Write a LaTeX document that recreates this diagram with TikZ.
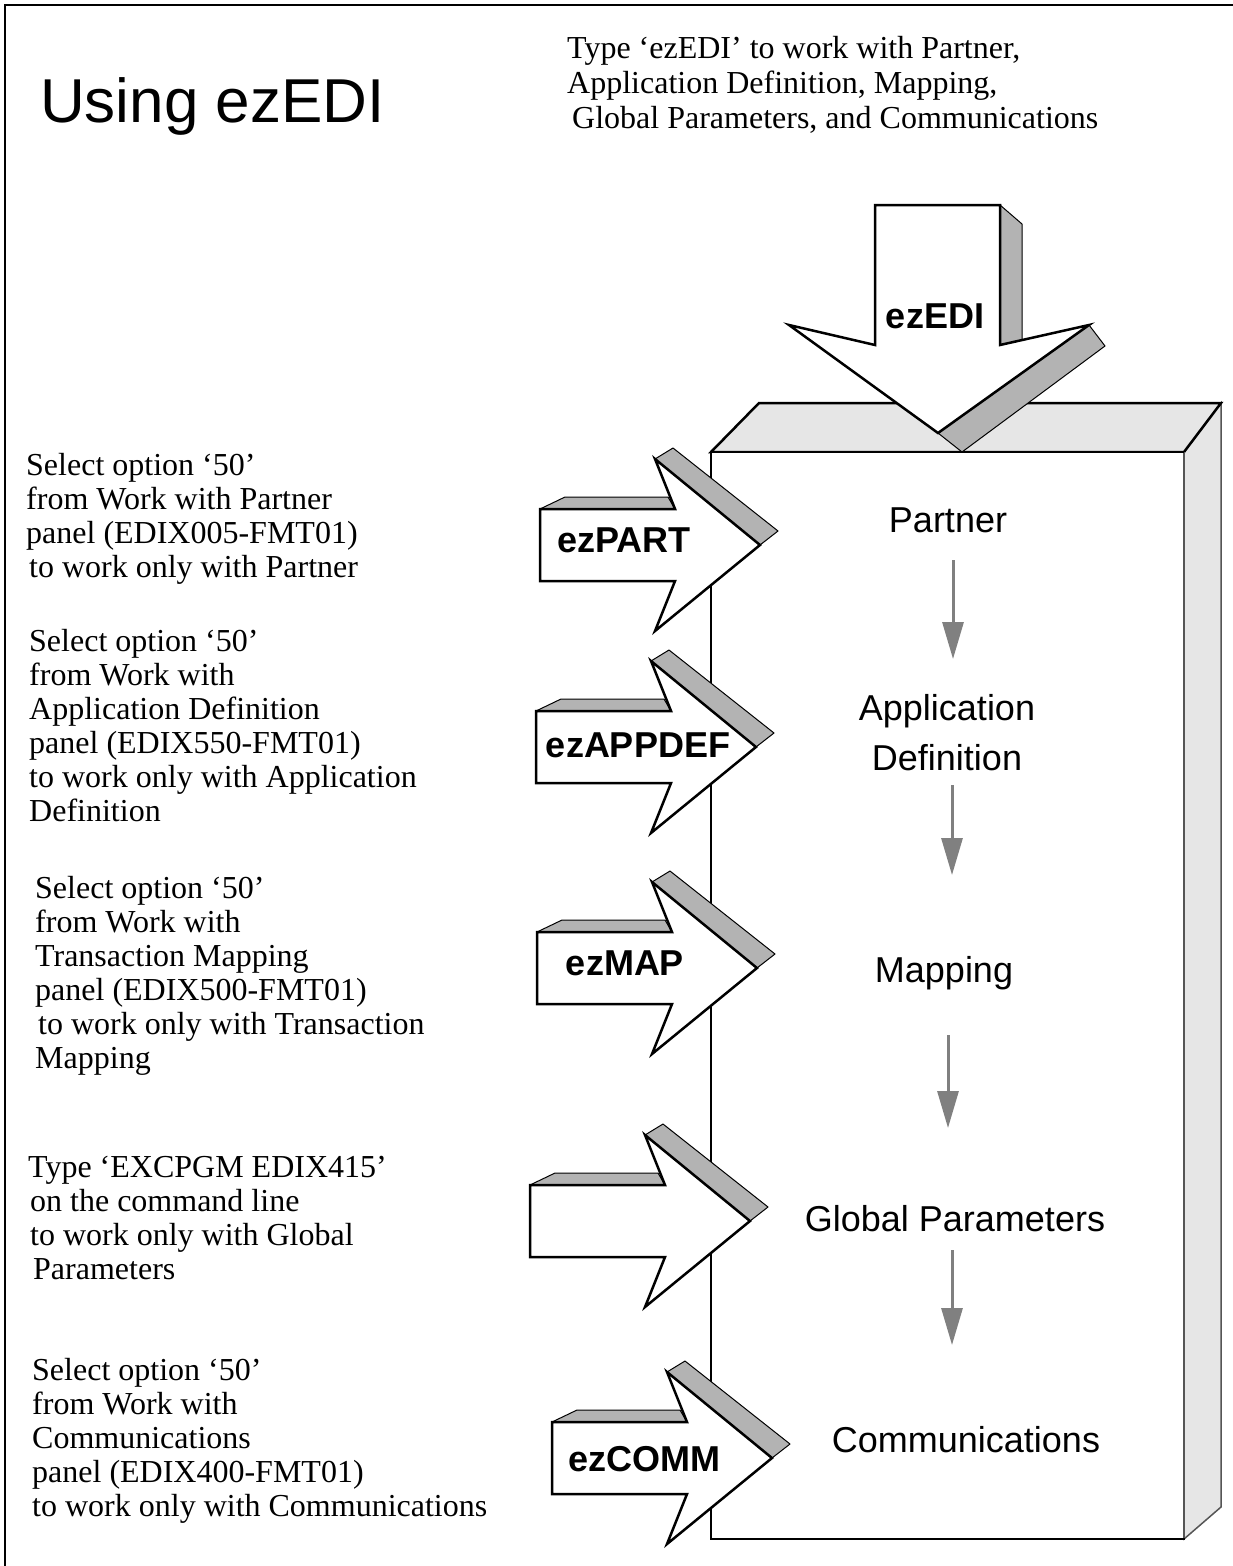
\documentclass[tikz,border=0pt]{standalone}
\usepackage{fontspec}
\setmainfont{Liberation Serif}
\setsansfont{Liberation Sans}
\usetikzlibrary{arrows.meta}
\definecolor{shade}{RGB}{179,179,179}
\definecolor{face}{RGB}{230,230,230}
\definecolor{flowgray}{RGB}{128,128,128}
\definecolor{edgegray}{RGB}{85,85,85}
\begin{document}
\begin{tikzpicture}[x=1pt,y=-1pt,
  outl/.style={draw=black,line width=2.5pt,line join=miter},
  shad/.style={fill=shade,draw=black,line width=1pt,line join=round},
  desc/.style={anchor=north west,inner sep=0pt,align=left,font=\fontsize{32}{34}\selectfont},
  boxlbl/.style={inner sep=0pt,font=\sffamily\fontsize{36}{50}\selectfont,align=center},
  arrlbl/.style={inner sep=0pt,font=\sffamily\bfseries\fontsize{36}{40}\selectfont},
  flow/.style={draw=flowgray,line width=3pt,-{Triangle[length=37pt,width=21pt]}},
  sarrow/.pic={
    \path[shad] (0,-36) -- (25,-48) -- (128,-48) -- (135,-36) -- cycle;
    \path[shad] (115,-86) -- (133,-97) -- (238,-14) -- (220,0) -- cycle;
    \path[outl,fill=white] (0,-36) -- (135,-36) -- (115,-86) -- (220,0) -- (115,86) -- (135,36) -- (0,36) -- cycle;
  }
]
\useasboundingbox (0,0) rectangle (1233,1566);
% frame
\draw[line width=2.5pt] (5,1566) -- (5,5) -- (1233,5);

% title and top text
\node[anchor=base west,inner sep=0pt,font=\sffamily\fontsize{62}{70}\selectfont] (title) at (40,122) {Using ezEDI};
\node[desc,font=\fontsize{32}{35}\selectfont] (toptext) at (567,36) {Type ‘ezEDI’ to work with Partner,\\Application Definition, Mapping,\\\hspace*{5pt}Global Parameters, and Communications};

% box
\path[fill=face,draw=edgegray,line width=1.5pt] (1184,452) -- (1221,403) -- (1221,1507) -- (1184,1539) -- cycle;
\path[fill=face,outl] (711,452) -- (759,403) -- (1221,403) -- (1184,452) -- cycle;
\fill[white] (711,452) rectangle (1184,1539);
\draw[edgegray,line width=1.5pt] (1184,452) -- (1184,1539);
\draw[line width=2.5pt,line join=miter] (1185,1539) -- (711,1539) -- (711,452) -- (1184,452);

% top arrow ezEDI
\path[shad] (1000,205) -- (1022,224) -- (1022,342) -- (1000,345) -- cycle;
\path[shad] (1089,325) -- (1105,346) -- (962,452) -- (938,433) -- cycle;
\path[outl,fill=white] (875,205) -- (1000,205) -- (1000,345) -- (1089,325) -- (938,433) -- (789,325) -- (875,345) -- cycle;
\node[arrlbl] (ledi) at (935,316) {ezEDI};

% side arrows
\pic at (540,545) {sarrow};
\pic at (536,747) {sarrow};
\pic at (537,968) {sarrow};
\pic at (530,1221) {sarrow};
\pic at (552,1458) {sarrow};
\node[arrlbl] (lpart) at (624,540) {ezPART};
\node[arrlbl] (lappdef) at (638,745) {ezAPPDEF};
\node[arrlbl] (lmap) at (625,963) {ezMAP};
\node[arrlbl] (lcomm) at (644,1459) {ezCOMM};

% box labels
\node[boxlbl] (partner) at (948,520) {Partner};
\node[boxlbl] (appdef) at (947,733) {Application\\Definition};
\node[boxlbl] (mapping) at (944,973) {Mapping};
\node[boxlbl] (global) at (955,1219) {Global Parameters};
\node[boxlbl] (comm) at (966,1440) {Communications};

% flow arrows
\coordinate (f1a) at (953,560);
\coordinate (f1b) at (953,659);
\coordinate (f2a) at (952,785);
\coordinate (f2b) at (952,875);
\coordinate (f3a) at (948,1035);
\coordinate (f3b) at (948,1128);
\coordinate (f4a) at (952,1250);
\coordinate (f4b) at (952,1345);
\draw[flow] (f1a) -- (f1b);
\draw[flow] (f2a) -- (f2b);
\draw[flow] (f3a) -- (f3b);
\draw[flow] (f4a) -- (f4b);

% descriptions
\node[desc] (d1) at (26,453) {Select option ‘50’\\from Work with Partner\\panel (EDIX005-FMT01)\\\hspace*{3pt}to work only with Partner};
\node[desc] (d2) at (29,629) {Select option ‘50’\\from Work with\\Application Definition\\panel (EDIX550-FMT01)\\to work only with Application\\Definition};
\node[desc] (d3) at (35,876) {Select option ‘50’\\from Work with\\Transaction Mapping\\panel (EDIX500-FMT01)\\\hspace*{3pt}to work only with Transaction\\Mapping};
\node[desc] (d4) at (28,1156) {Type ‘EXCPGM EDIX415’\\\hspace*{2pt}on the command line\\\hspace*{2pt}to work only with Global\\\hspace*{5pt}Parameters};
\node[desc] (d5) at (32,1358) {Select option ‘50’\\from Work with\\Communications\\panel (EDIX400-FMT01)\\to work only with Communications};
\end{tikzpicture}
\end{document}
